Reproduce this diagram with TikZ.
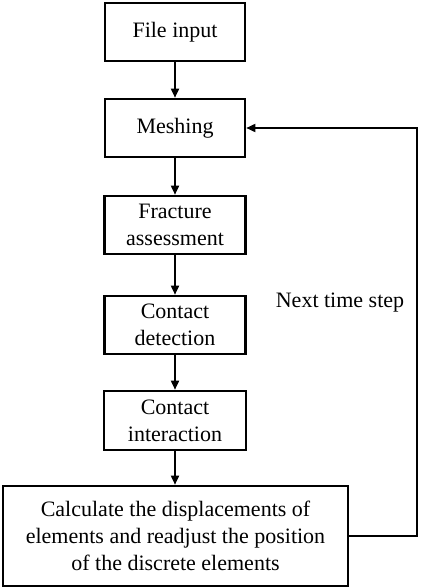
\documentclass[tikz,border=0pt]{standalone}
\usepackage{fontspec}
\setmainfont{Liberation Serif}
\usetikzlibrary{arrows.meta}
\begin{document}
\begin{tikzpicture}[x=1pt,y=1pt,
  box/.style={draw, line width=2.6pt, rectangle, align=center, inner sep=0pt,
    font=\fontsize{22}{27}\selectfont},
  arr/.style={line width=1.7pt, -{Triangle[length=9pt,width=8pt]}},
  lbl/.style={font=\fontsize{22}{27}\selectfont, inner sep=0pt}]
\useasboundingbox (0,0) rectangle (422,-588);
\node[box, minimum width=140, minimum height=58] (file) at (175,-32) {File input};
\node[box, minimum width=140, minimum height=58] (mesh) at (175,-128) {Meshing};
\node[box, minimum width=141, minimum height=58] (frac) at (175,-225) {Fracture\\assessment};
\node[box, minimum width=141, minimum height=58] (det) at (175,-325) {Contact\\detection};
\node[box, minimum width=142, minimum height=59] (inter) at (175,-420.5) {Contact\\interaction};
\node[box, minimum width=345, minimum height=100] (calc) at (175.5,-536) {Calculate the displacements of\\elements and readjust the position\\of the discrete elements};
\node[lbl] (next) at (340,-303) {Next time step};
\coordinate (turn) at (417,-128);
\draw[arr] (file) -- (mesh);
\draw[arr] (mesh) -- (frac);
\draw[arr] (frac) -- (det);
\draw[arr] (det) -- (inter);
\draw[arr] (inter) -- (inter |- calc.north);
\draw[arr] (calc.east) -| (turn) -- (mesh.east);
\end{tikzpicture}
\end{document}
